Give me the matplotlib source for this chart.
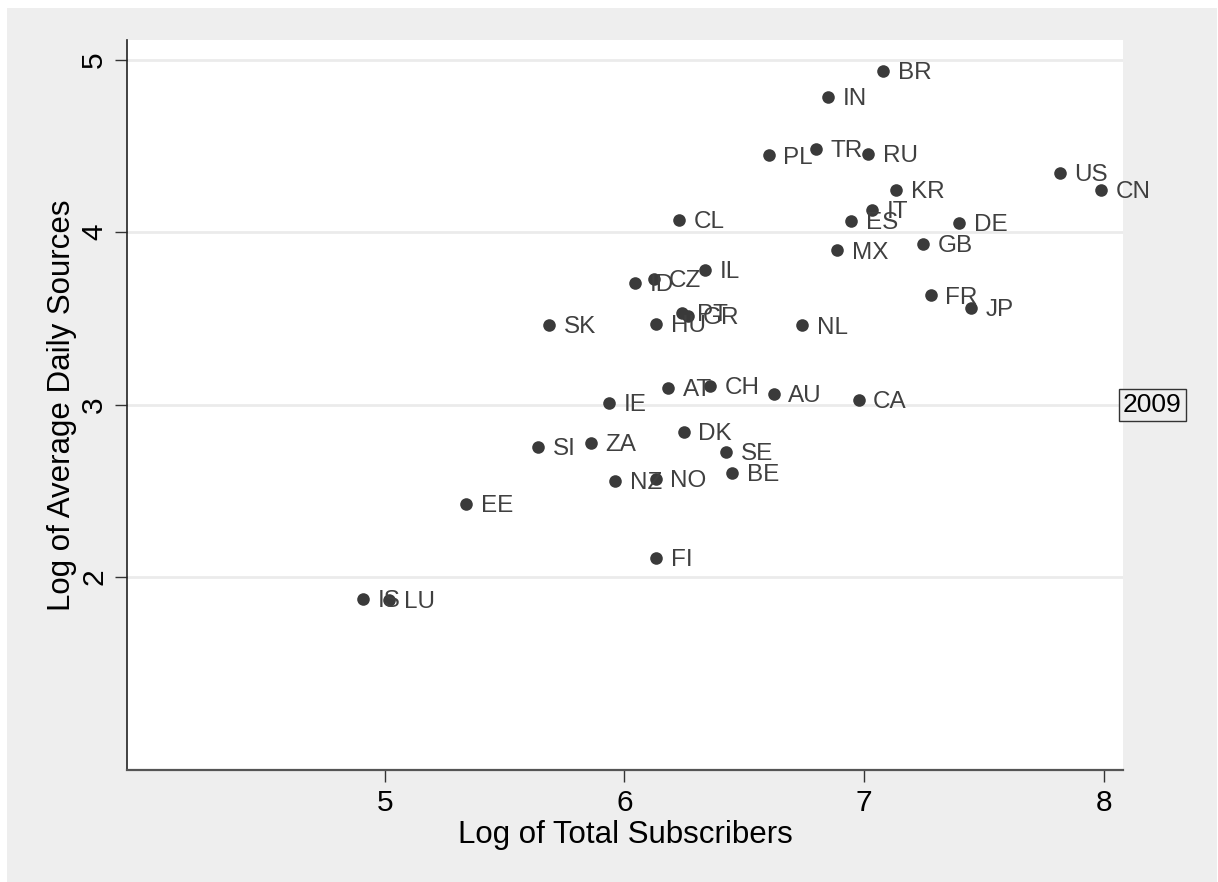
import numpy as np
import matplotlib
matplotlib.use('Agg')
import matplotlib.pyplot as plt
from matplotlib.patches import Rectangle

plt.rcParams['font.family'] = ['Liberation Sans', 'DejaVu Sans']

# log of total subscribers / log of average daily sources, 2009
countries = ['BR', 'IN', 'PL', 'TR', 'RU', 'US', 'CN', 'KR', 'IT', 'ES', 'DE', 'MX',
             'GB', 'FR', 'JP', 'NL', 'CL', 'IL', 'ID', 'CZ', 'SK', 'HU', 'PT', 'GR',
             'IE', 'AT', 'CH', 'AU', 'CA', 'DK', 'SI', 'ZA', 'SE', 'BE', 'NZ', 'NO',
             'FI', 'EE', 'IS', 'LU']
log_subs = [7.079, 6.849, 6.602, 6.801, 7.016, 7.816, 7.987, 7.135, 7.033, 6.947, 7.396, 6.887,
            7.246, 7.278, 7.445, 6.741, 6.227, 6.335, 6.043, 6.124, 5.686, 6.133, 6.242, 6.265,
            5.936, 6.182, 6.359, 6.623, 6.977, 6.247, 5.640, 5.859, 6.425, 6.450, 5.962, 6.131,
            6.133, 5.341, 4.909, 5.018]
log_sources = [4.937, 4.782, 4.445, 4.484, 4.453, 4.343, 4.246, 4.246, 4.130, 4.066, 4.053, 3.894,
               3.931, 3.633, 3.559, 3.459, 4.072, 3.782, 3.705, 3.728, 3.463, 3.468, 3.530, 3.515,
               3.012, 3.095, 3.110, 3.060, 3.027, 2.843, 2.756, 2.776, 2.727, 2.602, 2.559, 2.567,
               2.108, 2.424, 1.872, 1.867]
xticks = [5, 6, 7, 8]
yticks = [2, 3, 4, 5]
year = '2009'

fig = plt.figure(figsize=(12.18, 8.82), dpi=100, facecolor='white')
fig.patches.append(Rectangle((7/1218, 0), 1210/1218, 874/882, transform=fig.transFigure,
                             facecolor='#eeeeee', edgecolor='none', zorder=-10))
ax = fig.add_axes([127/1218, 1 - 770/882, 996/1218, 730/882])
ax.set_facecolor('white')

ax.scatter(log_subs, log_sources, s=82, color='#3a3a3a', zorder=3, linewidths=0)
for c, x, y in zip(countries, log_subs, log_sources):
    ax.annotate(c, (x, y), xytext=(10.5, -1.5), textcoords='offset points',
                ha='left', va='center', fontsize=17.5, color='#404040', zorder=4)

ax.set_xlim(3.925, 8.08)
ax.set_ylim(0.88, 5.115)
ax.set_xticks(xticks)
ax.set_yticks(yticks)
ax.grid(axis='y', color='#ebebeb', linewidth=2)
ax.set_axisbelow(True)
for s in ['top', 'right']:
    ax.spines[s].set_visible(False)
ax.spines['left'].set_color('#222222')
ax.spines['bottom'].set_color('#555555')
ax.spines['left'].set_linewidth(1.2)
ax.spines['bottom'].set_linewidth(1.6)
ax.tick_params(axis='both', length=8.5, width=1, color='#333333', labelsize=21.5, pad=5)
plt.setp(ax.get_yticklabels(), rotation=90, va='center')

ax.set_xlabel('Log of Total Subscribers', fontsize=22.5, labelpad=2)
ax.set_ylabel('Log of Average Daily Sources', fontsize=22.5, labelpad=2)

ax.text(1.0, 3.0, year, transform=ax.get_yaxis_transform(), ha='left', va='center',
        fontsize=19, color='black',
        bbox=dict(boxstyle='square,pad=0.15', facecolor='#eeeeee', edgecolor='#333333', linewidth=1))

fig.savefig('out.png', dpi=100, facecolor=fig.get_facecolor())
